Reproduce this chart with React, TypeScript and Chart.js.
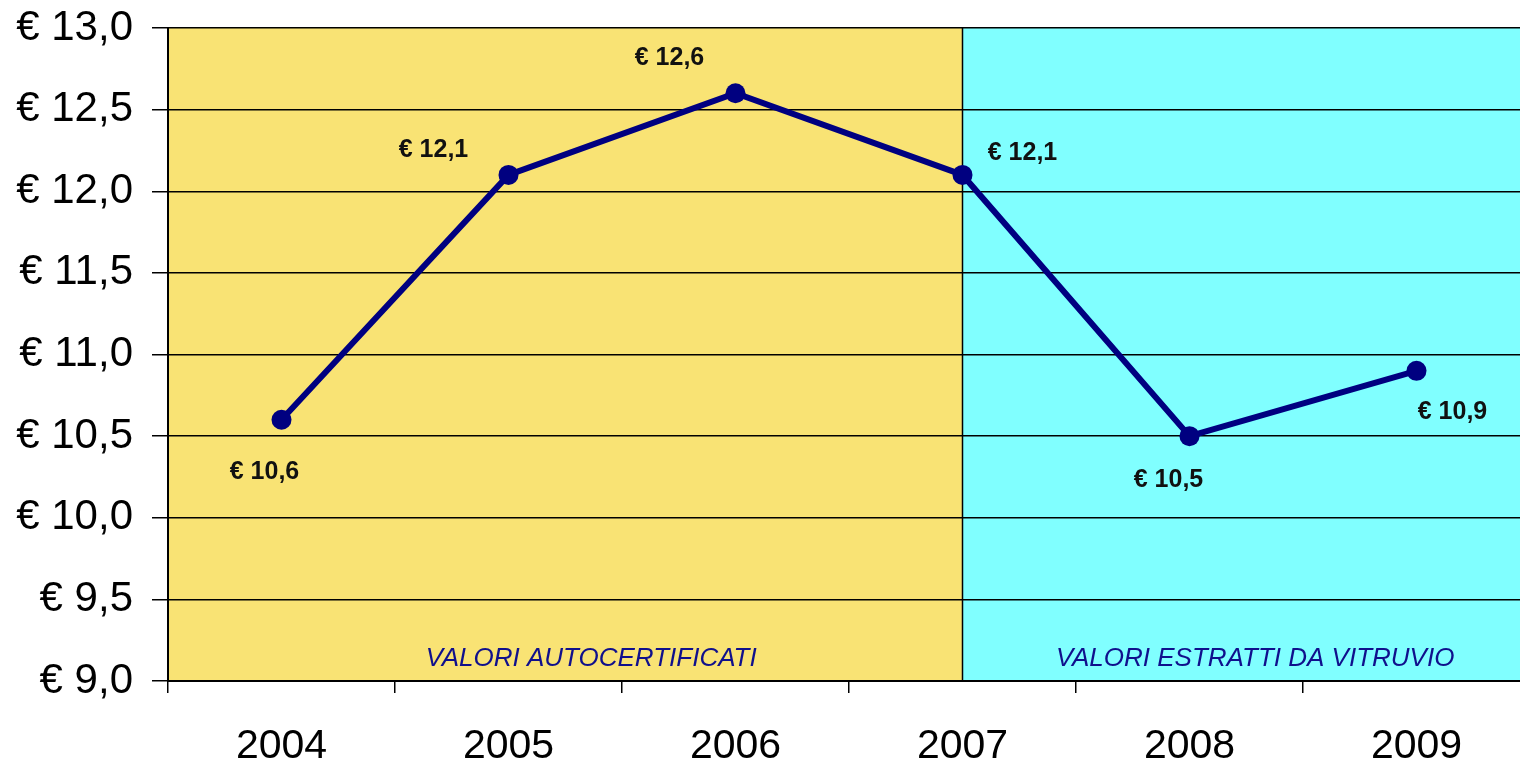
import React, { useEffect, useRef } from "react";
import { Chart, registerables } from "chart.js";

Chart.register(...registerables);

const years = ["2004", "2005", "2006", "2007", "2008", "2009"];
const costs = [10.6, 12.1, 12.6, 12.1, 10.5, 10.9];
const regionLabels = ["VALORI AUTOCERTIFICATI", "VALORI ESTRATTI DA VITRUVIO"];
const regionSplitIndex = 3;
const yMin = 9;
const yMax = 13;
const yStep = 0.5;

// pixel offsets of the value labels from their points (style only)
const labelOffsets: [number, number][] = [
  [-17, 52],
  [-75, -25],
  [-66, -35],
  [60, -22],
  [-21, 44],
  [36, 41],
];

const fmt = (v: number) => "€ " + v.toFixed(1).replace(".", ",");

const FONT = '"Liberation Sans", Arial, sans-serif';

const regionsPlugin = {
  id: "regions",
  beforeDraw(chart: any) {
    const { ctx, chartArea, scales } = chart;
    const split = scales.x.getPixelForValue(regionSplitIndex);
    ctx.save();
    ctx.fillStyle = "#F9E374";
    ctx.fillRect(chartArea.left, chartArea.top, split - chartArea.left, chartArea.bottom - chartArea.top);
    ctx.fillStyle = "#80FFFF";
    ctx.fillRect(split, chartArea.top, chartArea.right - split, chartArea.bottom - chartArea.top);
    ctx.restore();
  },
  beforeDatasetsDraw(chart: any) {
    const { ctx, chartArea, scales } = chart;
    const split = scales.x.getPixelForValue(regionSplitIndex);
    ctx.save();
    ctx.strokeStyle = "#000000";
    ctx.lineWidth = 1.5;
    ctx.beginPath();
    ctx.moveTo(split, chartArea.top);
    ctx.lineTo(split, chartArea.bottom);
    ctx.stroke();
    ctx.fillStyle = "#10108C";
    ctx.font = `italic 26px ${FONT}`;
    ctx.textAlign = "center";
    ctx.textBaseline = "middle";
    const ty = chartArea.bottom - 22;
    ctx.fillText(regionLabels[0], (chartArea.left + split) / 2 + 26, ty);
    ctx.fillText(regionLabels[1], (split + chartArea.right) / 2 + 9, ty);
    ctx.restore();
  },
  afterDatasetsDraw(chart: any) {
    const { ctx } = chart;
    const meta = chart.getDatasetMeta(0);
    ctx.save();
    ctx.fillStyle = "#111111";
    ctx.font = `bold 25px ${FONT}`;
    ctx.textAlign = "center";
    ctx.textBaseline = "middle";
    meta.data.forEach((pt: any, i: number) => {
      const [dx, dy] = labelOffsets[i];
      ctx.fillText(fmt(costs[i]), pt.x + dx, pt.y + dy);
    });
    ctx.restore();
  },
};

export default function App() {
  const ref = useRef<HTMLCanvasElement>(null);
  useEffect(() => {
    if (!ref.current) return;
    const chart = new Chart(ref.current, {
      type: "line",
      data: {
        labels: years,
        datasets: [
          {
            data: costs,
            borderColor: "#000080",
            backgroundColor: "#000080",
            borderWidth: 6,
            pointRadius: 10,
            pointBackgroundColor: "#000080",
            pointBorderWidth: 0,
            tension: 0,
          },
        ],
      },
      options: {
        responsive: false,
        animation: false,
        devicePixelRatio: 1,
        layout: { padding: { top: 28, right: 10, bottom: 0, left: 0 } },
        plugins: { legend: { display: false }, tooltip: { enabled: false } },
        scales: {
          x: {
            offset: true,
            grid: {
              offset: true,
              drawOnChartArea: false,
              drawTicks: true,
              tickLength: 12,
              color: "#000000",
              lineWidth: 1.5,
            },
            border: { display: true, color: "#000000", width: 2 },
            ticks: {
              color: "#000000",
              font: { family: FONT, size: 41 },
              padding: 29,
              maxRotation: 0,
            },
            afterFit(scale: any) {
              scale.height = 85;
              scale.paddingLeft = 0;
              scale.paddingRight = 0;
            },
          },
          y: {
            min: yMin,
            max: yMax,
            grid: {
              color: "#000000",
              lineWidth: 1.5,
              tickLength: 16,
              drawTicks: true,
            },
            border: { display: true, color: "#000000", width: 2 },
            ticks: {
              stepSize: yStep,
              color: "#000000",
              font: { family: FONT, size: 42 },
              padding: 19,
              callback: (v: any) => fmt(Number(v)),
            },
            afterFit(scale: any) {
              scale.width = 168;
              scale.paddingTop = 0;
              scale.paddingBottom = 0;
            },
          },
        },
      },
      plugins: [regionsPlugin],
    });
    return () => chart.destroy();
  }, []);
  return (
    <div
      style={{
        position: "fixed",
        left: 0,
        top: 0,
        width: 1520,
        height: 766,
        overflow: "hidden",
        background: "#ffffff",
      }}
    >
      <canvas ref={ref} width={1540} height={766} style={{ width: 1540, height: 766, display: "block" }} />
    </div>
  );
}
